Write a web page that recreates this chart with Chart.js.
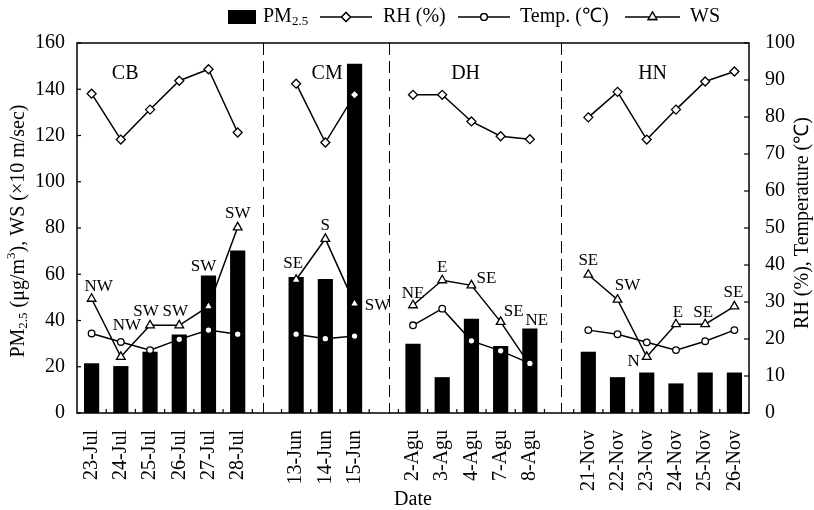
<!DOCTYPE html>
<html>
<head>
<meta charset="utf-8">
<script src="https://cdn.jsdelivr.net/npm/chart.js@4.4.1/dist/chart.umd.min.js"></script>
<style>
  html, body { margin: 0; padding: 0; background: #fff; }
  #wrap { width: 814px; height: 510px; }
</style>
</head>
<body>
<div id="wrap"><canvas id="c" width="814" height="510"></canvas></div>
<script>
// ---- Data ----
const categories = ['23-Jul','24-Jul','25-Jul','26-Jul','27-Jul','28-Jul','',
  '13-Jun','14-Jun','15-Jun','',
  '2-Agu','3-Agu','4-Agu','7-Agu','8-Agu','',
  '21-Nov','22-Nov','23-Nov','24-Nov','25-Nov','26-Nov'];
const pm25 = [21.5, 20.3, 26.5, 34, 59.5, 70.3, null,
  58.8, 58, 151, null,
  30, 15.5, 40.8, 29, 36.5, null,
  26.5, 15.5, 17.5, 12.8, 17.5, 17.5];
const rh = [86.3, 73.9, 82, 89.8, 92.9, 75.8, null,
  89, 73.1, 86, null,
  86, 86, 78.8, 74.8, 74, null,
  79.9, 86.8, 73.9, 82, 89.6, 92.3];
const temp = [21.5, 19.2, 17, 19.9, 22.4, 21.3, null,
  21.3, 20.1, 20.8, null,
  23.7, 28.2, 19.5, 16.8, 13.4, null,
  22.4, 21.3, 19.1, 17, 19.4, 22.4];
const ws = [49.4, 24.3, 37.9, 37.9, 46.1, 80.3, null,
  57.6, 75.3, 47.3, null,
  46.6, 57.4, 55.2, 39.4, 20.7, null,
  59.8, 49, 24.3, 38.4, 38.4, 46.1];
const windDir = ['NW','NW','SW','SW','SW','SW',null,
  'SE','S','SW',null,
  'NE','E','SE','SE','NE',null,
  'SE','SW','N','E','SE','SE'];
const groupNames = ['CB','CM','DH','HN'];
const leftTicks = [0,20,40,60,80,100,120,140,160];
const rightTicks = [0,10,20,30,40,50,60,70,80,90,100];

// ---- Styling / layout helpers ----
const FONT = '"Liberation Serif", "Times New Roman", serif';
const groupLabelAt = [1.15, 8.06, 12.8, 19.2];      // fractional category index
const dividerAt = [5.87, 10.19, 16.08];             // fractional category index
const windOffsets = [[7,-12],[6,-31],[-4,-14],[-4,-14],[-5,-40],[0,-14],null,
  [-3,-16],[0,-13],[23,2],null,
  [0,-12],[0,-13],[15,-7],[13,-10],[7,-45],null,
  [0,-14],[10,-14],[-13,5],[2,-12],[-2,-12],[-1,-14]];

function drawRich(ctx, parts, size) {
  // measure
  let total = 0;
  parts.forEach(p => {
    ctx.font = (p.sub || p.sup ? Math.round(size*0.65) : size) + 'px ' + FONT;
    p.w = ctx.measureText(p.t).width; total += p.w;
  });
  let x = -total/2;
  parts.forEach(p => {
    ctx.font = (p.sub || p.sup ? Math.round(size*0.65) : size) + 'px ' + FONT;
    const dy = p.sub ? size*0.25 : (p.sup ? -size*0.38 : 0);
    ctx.fillText(p.t, x, dy);
    x += p.w;
  });
}

const decor = {
  id: 'decor',
  beforeDatasetsDraw(chart) {
    const {ctx, chartArea: a, scales} = chart;
    const x = scales.x;
    ctx.save();
    ctx.strokeStyle = '#000';
    ctx.lineWidth = 1;
    ctx.setLineDash([12, 6]);
    dividerAt.forEach(v => {
      const px = Math.round(x.getPixelForValue(v)) + 0.5;
      ctx.beginPath(); ctx.moveTo(px, a.top); ctx.lineTo(px, a.bottom); ctx.stroke();
    });
    ctx.restore();
  },
  afterDraw(chart) {
    const {ctx, chartArea: a, scales} = chart;
    const x = scales.x, yL = scales.y, yR = scales.y1;
    ctx.save();
    ctx.strokeStyle = '#000';
    ctx.fillStyle = '#000';
    ctx.lineWidth = 1.5;
    // frame
    ctx.strokeRect(a.left, a.top, a.right - a.left, a.bottom - a.top);
    // inward ticks
    ctx.lineWidth = 1.2;
    for (let i = 1; i < categories.length; i++) {
      const px = x.getPixelForValue(i - 0.5);
      ctx.beginPath(); ctx.moveTo(px, a.bottom); ctx.lineTo(px, a.bottom - 4); ctx.stroke();
    }
    leftTicks.forEach(v => {
      const py = yL.getPixelForValue(v);
      ctx.beginPath(); ctx.moveTo(a.left, py); ctx.lineTo(a.left + 4, py); ctx.stroke();
    });
    rightTicks.forEach(v => {
      const py = yR.getPixelForValue(v);
      ctx.beginPath(); ctx.moveTo(a.right, py); ctx.lineTo(a.right - 5, py); ctx.stroke();
    });
    // group labels
    ctx.textAlign = 'center';
    ctx.textBaseline = 'middle';
    ctx.font = '20px ' + FONT;
    groupNames.forEach((g, i) => {
      ctx.fillText(g, x.getPixelForValue(groupLabelAt[i]), yL.getPixelForValue(146.6));
    });
    // wind direction labels
    ctx.font = '17px ' + FONT;
    windDir.forEach((d, i) => {
      if (!d) return;
      const o = windOffsets[i];
      ctx.fillText(d, x.getPixelForValue(i) + o[0], yL.getPixelForValue(ws[i]) + o[1]);
    });
    // axis titles
    ctx.save();
    ctx.translate(19, (a.top + a.bottom) / 2 + 3);
    ctx.rotate(-Math.PI / 2);
    ctx.textAlign = 'left';
    ctx.textBaseline = 'middle';
    drawRich(ctx, [{t:'PM'},{t:'2.5',sub:true},{t:' (μg/m'},{t:'3',sup:true},{t:'), WS (×10 m/sec)'}], 20);
    ctx.restore();
    ctx.save();
    ctx.translate(803, (a.top + a.bottom) / 2 - 5);
    ctx.rotate(-Math.PI / 2);
    ctx.textAlign = 'left';
    ctx.textBaseline = 'middle';
    drawRich(ctx, [{t:'RH (%), Temperature (℃)'}], 20);
    ctx.restore();
    ctx.font = '20px ' + FONT;
    ctx.textAlign = 'center';
    ctx.fillText('Date', (a.left + a.right) / 2, 500);
    // legend
    const ly = 17;
    ctx.fillRect(228, 10, 28, 14);
    ctx.textAlign = 'left';
    ctx.save(); ctx.translate(0, ly); ctx.textBaseline = 'middle';
    ctx.save(); ctx.translate(263 + 0, 0);
    // PM2.5 with subscript
    ctx.font = '20px ' + FONT; ctx.fillText('PM', 0, 0);
    const wPM = ctx.measureText('PM').width;
    ctx.font = '13px ' + FONT; ctx.fillText('2.5', wPM, 5);
    ctx.restore();
    ctx.font = '20px ' + FONT;
    ctx.fillText('RH (%)', 383, 0);
    ctx.fillText('Temp. (℃)', 520, 0);
    ctx.fillText('WS', 690, 0);
    ctx.restore();
    const legendLine = (x0, x1, style, r) => {
      ctx.lineWidth = 1.5;
      ctx.beginPath(); ctx.moveTo(x0, ly); ctx.lineTo(x1, ly); ctx.stroke();
      ctx.fillStyle = '#fff';
      ctx.lineWidth = 1.3;
      Chart.helpers.drawPoint(ctx, {pointStyle: style, radius: r, borderWidth: 1.3}, (x0 + x1) / 2, ly);
      ctx.fill(); ctx.stroke();
      ctx.fillStyle = '#000';
    };
    legendLine(320, 372, 'rectRot', 4.5);
    legendLine(458, 510, 'circle', 3.3);
    legendLine(625, 680, 'triangle', 5);
    ctx.restore();
  }
};

const lineDS = (label, data, style, r, axis) => ({
  type: 'line', label, data, yAxisID: axis, order: 1,
  borderColor: '#000', borderWidth: 1.5, spanGaps: false, tension: 0,
  pointStyle: style, pointRadius: r, pointBorderWidth: 1.3,
  pointBackgroundColor: '#fff', pointBorderColor: '#000'
});

new Chart(document.getElementById('c'), {
  data: {
    labels: categories,
    datasets: [
      { type: 'bar', label: 'PM2.5', data: pm25, yAxisID: 'y', order: 2,
        backgroundColor: '#000', borderWidth: 0,
        barPercentage: 0.52, categoryPercentage: 1 },
      lineDS('RH (%)', rh, 'rectRot', 4.5, 'y1'),
      lineDS('Temp. (℃)', temp, 'circle', 3.3, 'y1'),
      lineDS('WS', ws, 'triangle', 5, 'y')
    ]
  },
  options: {
    responsive: false,
    devicePixelRatio: 1,
    animation: false,
    layout: { padding: { top: 43, left: 0, right: 0, bottom: 0 } },
    plugins: { legend: { display: false }, tooltip: { enabled: false } },
    scales: {
      x: {
        type: 'category', offset: true,
        grid: { display: false }, border: { display: false },
        ticks: { autoSkip: false, minRotation: 90, maxRotation: 90, padding: 9,
          color: '#000', font: { family: FONT, size: 20 } },
        afterFit(s) { s.height = 97; }
      },
      y: {
        position: 'left', min: 0, max: 160,
        grid: { display: false }, border: { display: false },
        afterBuildTicks(s) { s.ticks = leftTicks.map(v => ({ value: v })); },
        ticks: { padding: 4, color: '#000', font: { family: FONT, size: 20 } },
        afterFit(s) { s.width = 77; }
      },
      y1: {
        position: 'right', min: 0, max: 100,
        grid: { display: false }, border: { display: false },
        afterBuildTicks(s) { s.ticks = rightTicks.map(v => ({ value: v })); },
        ticks: { padding: 8, color: '#000', font: { family: FONT, size: 20 } },
        afterFit(s) { s.width = 65; }
      }
    }
  },
  plugins: [decor]
});
</script>
</body>
</html>
